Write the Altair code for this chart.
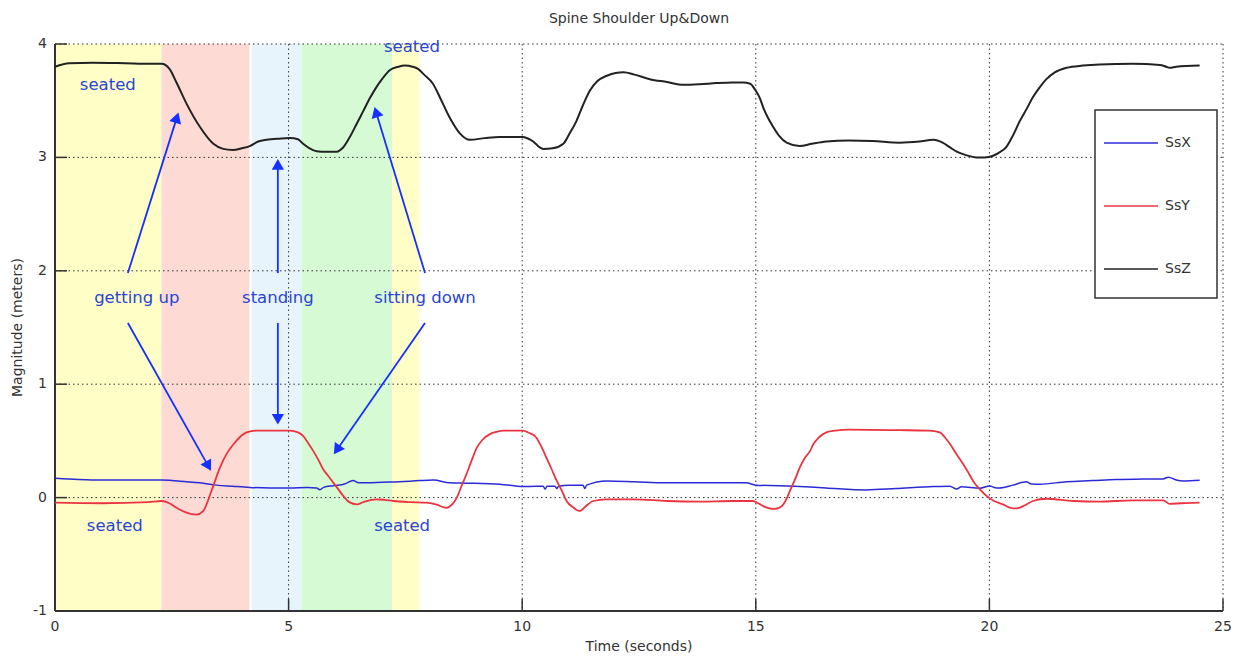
import math
import altair as alt
import pandas as pd

TITLE = "Spine Shoulder Up&Down"
X_TITLE = "Time (seconds)"
Y_TITLE = "Magnitude (meters)"
SERIES = ["SsX", "SsY", "SsZ"]
SERIES_COLORS = ["#2b2bd6", "#ea3440", "#222222"]
SERIES_WIDTHS = [1.5, 1.8, 2.0]

SSX = [(0, 0.17), (0.5, 0.16), (1.0, 0.155), (1.6, 0.155), (2.28, 0.155), (2.82, 0.14), (3.1, 0.13),
       (3.46, 0.11), (3.8, 0.10), (4.17, 0.09), (4.6, 0.085), (5.03, 0.085), (5.4, 0.09), (5.6, 0.085),
       (5.67, 0.07), (5.75, 0.09), (5.96, 0.105), (6.2, 0.12), (6.38, 0.15), (6.5, 0.13), (6.67, 0.13),
       (7.0, 0.135), (7.38, 0.14), (7.8, 0.15), (8.1, 0.155), (8.45, 0.13), (8.81, 0.127), (9.52, 0.118),
       (10.02, 0.097), (10.3, 0.1), (10.45, 0.1), (10.49, 0.075), (10.53, 0.1), (10.7, 0.1), (10.74, 0.08),
       (10.78, 0.1), (11.0, 0.11), (11.3, 0.11), (11.34, 0.08), (11.38, 0.11), (11.81, 0.147), (12.4, 0.14),
       (13.05, 0.13), (14.0, 0.13), (14.8, 0.13), (15.0, 0.11), (15.5, 0.105), (15.94, 0.097), (16.5, 0.085),
       (17.37, 0.068), (18.0, 0.08), (18.8, 0.097), (19.15, 0.1), (19.3, 0.075), (19.4, 0.095), (19.8, 0.083),
       (20.01, 0.103), (20.1, 0.09), (20.22, 0.085), (20.5, 0.11), (20.79, 0.14), (20.9, 0.12), (21.08, 0.118),
       (21.65, 0.14), (22.2, 0.15), (22.72, 0.16), (23.3, 0.163), (23.72, 0.165), (23.83, 0.18), (24.0, 0.155),
       (24.15, 0.147), (24.5, 0.153)]

SSY = [(0, -0.045), (1.0, -0.05), (2.0, -0.04), (2.28, -0.03), (2.45, -0.05), (2.6, -0.09), (2.8, -0.13),
       (3.03, -0.15), (3.17, -0.12), (3.35, 0.06), (3.53, 0.265), (3.68, 0.39), (3.82, 0.47), (3.95, 0.53),
       (4.1, 0.575), (4.3, 0.59), (4.53, 0.59), (5.03, 0.59), (5.2, 0.575), (5.31, 0.545), (5.42, 0.48),
       (5.53, 0.41), (5.64, 0.33), (5.74, 0.25), (5.85, 0.19), (5.96, 0.13), (6.07, 0.07), (6.17, 0.015),
       (6.3, -0.04), (6.46, -0.06), (6.6, -0.04), (6.88, -0.015), (7.05, -0.02), (7.24, -0.03), (7.6, -0.04),
       (7.95, -0.045), (8.15, -0.06), (8.38, -0.09), (8.5, -0.06), (8.6, 0.0), (8.7, 0.1), (8.81, 0.21),
       (8.92, 0.33), (9.03, 0.44), (9.15, 0.51), (9.31, 0.56), (9.45, 0.58), (9.6, 0.59), (10.02, 0.59),
       (10.15, 0.57), (10.3, 0.53), (10.42, 0.44), (10.52, 0.35), (10.63, 0.25), (10.74, 0.147), (10.85, 0.06),
       (10.95, -0.03), (11.1, -0.09), (11.23, -0.12), (11.35, -0.08), (11.52, -0.03), (11.8, -0.015),
       (12.38, -0.015), (13.1, -0.03), (13.8, -0.035), (14.5, -0.03), (14.94, -0.03), (15.05, -0.05),
       (15.16, -0.075), (15.37, -0.10), (15.5, -0.09), (15.59, -0.06), (15.66, -0.01), (15.73, 0.06),
       (15.84, 0.16), (15.94, 0.265), (16.05, 0.35), (16.16, 0.41), (16.23, 0.47), (16.35, 0.53),
       (16.51, 0.575), (16.7, 0.59), (17.0, 0.60), (18.08, 0.595), (18.7, 0.59), (18.94, 0.575), (19.05, 0.53),
       (19.16, 0.47), (19.3, 0.38), (19.44, 0.295), (19.55, 0.22), (19.65, 0.147), (19.8, 0.07), (19.94, 0.015),
       (20.1, -0.03), (20.29, -0.06), (20.45, -0.09), (20.58, -0.095), (20.75, -0.07), (20.93, -0.03),
       (21.22, -0.01), (21.8, -0.03), (22.36, -0.035), (23.07, -0.025), (23.72, -0.025), (23.86, -0.055),
       (24.1, -0.05), (24.5, -0.045)]

SSZ = [(0, 3.80), (0.3, 3.83), (0.8, 3.835), (1.5, 3.83), (2.0, 3.825), (2.28, 3.825), (2.45, 3.78),
       (2.6, 3.66), (2.82, 3.47), (3.1, 3.27), (3.39, 3.12), (3.6, 3.075), (3.8, 3.065), (4.0, 3.08),
       (4.17, 3.10), (4.35, 3.14), (4.53, 3.155), (4.8, 3.165), (5.03, 3.17), (5.2, 3.16), (5.31, 3.12),
       (5.45, 3.08), (5.6, 3.055), (5.8, 3.05), (6.03, 3.05), (6.15, 3.08), (6.31, 3.18), (6.45, 3.29),
       (6.6, 3.41), (6.75, 3.53), (6.88, 3.62), (7.0, 3.69), (7.17, 3.77), (7.35, 3.80), (7.49, 3.81),
       (7.65, 3.80), (7.77, 3.78), (7.9, 3.73), (8.09, 3.65), (8.25, 3.52), (8.45, 3.35), (8.67, 3.21),
       (8.88, 3.155), (9.2, 3.17), (9.52, 3.18), (9.8, 3.18), (10.02, 3.18), (10.2, 3.15), (10.45, 3.075),
       (10.65, 3.08), (10.88, 3.12), (11.0, 3.20), (11.16, 3.32), (11.3, 3.46), (11.45, 3.59), (11.6, 3.67),
       (11.81, 3.72), (12.0, 3.745), (12.17, 3.75), (12.4, 3.73), (12.73, 3.69), (13.1, 3.665), (13.45, 3.64),
       (13.8, 3.645), (14.16, 3.655), (14.5, 3.66), (14.73, 3.66), (14.88, 3.65), (14.98, 3.60), (15.08, 3.53),
       (15.16, 3.44), (15.26, 3.35), (15.37, 3.27), (15.5, 3.19), (15.66, 3.13), (15.94, 3.10), (16.2, 3.12),
       (16.51, 3.14), (17.0, 3.15), (17.5, 3.145), (18.08, 3.13), (18.5, 3.14), (18.8, 3.155), (19.0, 3.13),
       (19.15, 3.09), (19.3, 3.05), (19.5, 3.02), (19.72, 3.0), (19.9, 3.0), (20.08, 3.015), (20.2, 3.04),
       (20.36, 3.09), (20.5, 3.19), (20.65, 3.32), (20.8, 3.43), (20.93, 3.53), (21.08, 3.62), (21.22, 3.69),
       (21.4, 3.75), (21.65, 3.79), (22.0, 3.81), (22.36, 3.82), (23.07, 3.825), (23.65, 3.815), (23.78, 3.80),
       (23.86, 3.79), (24.0, 3.80), (24.5, 3.81)]

BAND_START = [0.0, 2.28, 4.21, 5.28, 7.22]
BAND_END = [2.28, 4.16, 5.28, 7.22, 7.80]
BAND_COLOR = ["#fefec6", "#fddad4", "#e8f4fc", "#d6fad4", "#fefec6"]

LABEL_TEXT = ["seated", "seated", "seated", "seated", "getting up", "standing", "sitting down"]
LABEL_T = [1.13, 7.64, 1.28, 7.43, 1.75, 4.77, 7.92]
LABEL_V = [3.64, 3.97, -0.25, -0.25, 1.76, 1.76, 1.76]

ARROW_T1 = [1.56, 1.56, 4.77, 4.77, 7.92, 7.92]
ARROW_V1 = [1.98, 1.54, 1.98, 1.54, 1.98, 1.54]
ARROW_T2 = [2.63, 3.32, 4.77, 4.77, 6.85, 5.99]
ARROW_V2 = [3.38, 0.25, 2.97, 0.66, 3.43, 0.395]

X_VALUES = [0, 5, 10, 15, 20, 25]
Y_VALUES = [-1, 0, 1, 2, 3, 4]

W, H = 1168, 567
XDOM, YDOM = [0, 25], [-1, 4]
FONT = "DejaVu Sans"
ANN_COLOR = "#2a45d6"
ARROW_COLOR = "#1530ff"
AXIS_COLOR = "#333333"
HEAD_SIZE = 150

PXS = W / (XDOM[1] - XDOM[0])
PYU = H / (YDOM[1] - YDOM[0])

x_scale = alt.Scale(domain=XDOM, nice=False, zero=False)
y_scale = alt.Scale(domain=YDOM, nice=False, zero=False)


def X(field):
    return alt.X(field, scale=x_scale, axis=None)


def Y(field):
    return alt.Y(field, scale=y_scale, axis=None)


bands = pd.DataFrame({"s": BAND_START, "e": BAND_END, "c": BAND_COLOR,
                      "lo": [YDOM[0]] * len(BAND_START), "hi": [YDOM[1]] * len(BAND_START)})
rows = []
for name, pts, wdt in zip(SERIES, [SSX, SSY, SSZ], SERIES_WIDTHS):
    for t, v in pts:
        rows.append({"series": name, "t": t, "v": v, "w": wdt})
lines_df = pd.DataFrame(rows)
labels_df = pd.DataFrame({"text": LABEL_TEXT, "t": LABEL_T, "v": LABEL_V})
xv_df = pd.DataFrame({"t": X_VALUES, "label": [str(v) for v in X_VALUES]})
yv_df = pd.DataFrame({"v": Y_VALUES, "label": [str(v) for v in Y_VALUES]})

head_h = 0.866 * math.sqrt(HEAD_SIZE) / 2
arr_rows = []
for t1, v1, t2, v2 in zip(ARROW_T1, ARROW_V1, ARROW_T2, ARROW_V2):
    dx = (t2 - t1) * PXS
    dy = -(v2 - v1) * PYU
    L = math.hypot(dx, dy)
    ux, uy = dx / L, dy / L
    ct = t2 - ux * head_h / PXS
    cv = v2 + uy * head_h / PYU
    ang = math.degrees(math.atan2(ux, -uy)) % 360
    arr_rows.append({"t1": t1, "v1": v1, "tc": ct, "vc": cv, "angle": ang})
arrows_df = pd.DataFrame(arr_rows)

band_layer = alt.Chart(bands).mark_rect().encode(
    x=X("s:Q"), x2="e:Q", y=Y("lo:Q"), y2="hi:Q",
    fill=alt.Fill("c:N", scale=None, legend=None),
)

# grid (dotted)
grid_x = alt.Chart(xv_df[xv_df.t > XDOM[0]]).mark_rule(
    color=AXIS_COLOR, strokeDash=[1.5, 3], strokeWidth=1).encode(
    x=X("t:Q"), y=alt.value(0), y2=alt.value(H))
grid_y = alt.Chart(yv_df[yv_df.v > YDOM[0]]).mark_rule(
    color=AXIS_COLOR, strokeDash=[1.5, 3], strokeWidth=1).encode(
    y=Y("v:Q"), x=alt.value(0), x2=alt.value(W))

# domain lines
dom_x = alt.Chart(pd.DataFrame({"v": [YDOM[0]]})).mark_rule(color=AXIS_COLOR, strokeWidth=2).encode(
    y=Y("v:Q"), x=alt.value(0), x2=alt.value(W))
dom_y = alt.Chart(pd.DataFrame({"t": [XDOM[0]]})).mark_rule(color=AXIS_COLOR, strokeWidth=2).encode(
    x=X("t:Q"), y=alt.value(0), y2=alt.value(H))

# inward ticks
xt_layer = alt.Chart(xv_df[xv_df.t > XDOM[0]]).mark_rule(color=AXIS_COLOR, strokeWidth=1.5).encode(
    x=X("t:Q"), y=alt.value(H), y2=alt.value(H - 12))
yt_layer = alt.Chart(yv_df[yv_df.v > YDOM[0]]).mark_rule(color=AXIS_COLOR, strokeWidth=1.5).encode(
    y=Y("v:Q"), x=alt.value(0), x2=alt.value(12))

# tick labels and axis titles
xlab = alt.Chart(xv_df).mark_text(font=FONT, fontSize=14, color=AXIS_COLOR, align="center",
                                  baseline="middle").encode(
    x=X("t:Q"), y=alt.value(H + 16), text="label:N")
ylab = alt.Chart(yv_df).mark_text(font=FONT, fontSize=14, color=AXIS_COLOR, align="right",
                                  baseline="middle").encode(
    y=Y("v:Q"), x=alt.value(-8), text="label:N")
xtitle = alt.Chart(pd.DataFrame({"text": [X_TITLE]})).mark_text(
    font=FONT, fontSize=14, color=AXIS_COLOR, align="center", baseline="middle").encode(
    x=alt.value(W / 2), y=alt.value(H + 36), text="text:N")
ytitle = alt.Chart(pd.DataFrame({"text": [Y_TITLE]})).mark_text(
    font=FONT, fontSize=14, color=AXIS_COLOR, align="center", baseline="middle", angle=270).encode(
    x=alt.value(-37), y=alt.value(H / 2), text="text:N")

legend_box = alt.Chart(pd.DataFrame({"k": [0]})).mark_rect(
    fill="white", stroke=AXIS_COLOR, strokeWidth=1.5).encode(
    x=alt.value(1040), x2=alt.value(1162), y=alt.value(66), y2=alt.value(254))

line_layer = alt.Chart(lines_df).mark_line(interpolate="monotone").encode(
    x=X("t:Q"),
    y=Y("v:Q"),
    strokeWidth=alt.StrokeWidth("w:Q", scale=None, legend=None),
    color=alt.Color("series:N", scale=alt.Scale(domain=SERIES, range=SERIES_COLORS),
                    legend=alt.Legend(title=None, orient="none", legendX=1048, legendY=71,
                                      symbolType="stroke", symbolSize=2916, symbolStrokeWidth=1.5,
                                      labelFontSize=14, labelColor=AXIS_COLOR, labelFont=FONT,
                                      labelOffset=6, rowPadding=28, padding=0)),
)

arrow_rules = alt.Chart(arrows_df).mark_rule(color=ARROW_COLOR, strokeWidth=1.8).encode(
    x=X("t1:Q"), y=Y("v1:Q"), x2="tc:Q", y2="vc:Q")
arrow_heads = alt.Chart(arrows_df).mark_point(shape="triangle", filled=True, opacity=1,
                                               color=ARROW_COLOR, size=HEAD_SIZE).encode(
    x=X("tc:Q"), y=Y("vc:Q"), angle=alt.Angle("angle:Q", scale=None))

text_layer = alt.Chart(labels_df).mark_text(fontSize=16.5, font=FONT, color=ANN_COLOR,
                                             align="center", baseline="middle").encode(
    x=X("t:Q"), y=Y("v:Q"), text="text:N")

chart = alt.layer(band_layer, grid_x, grid_y, dom_x, dom_y, xt_layer, yt_layer, xlab, ylab,
                  xtitle, ytitle, legend_box, line_layer, arrow_rules, arrow_heads,
                  text_layer).properties(
    width=W, height=H,
    title=alt.TitleParams(TITLE, fontSize=14, fontWeight="normal", color=AXIS_COLOR, font=FONT,
                          offset=11, anchor="middle", frame="group"),
    autosize=alt.AutoSizeParams(type="none"),
    padding={"left": 47, "top": 36, "right": 11, "bottom": 46},
).configure_view(stroke=None)

chart.save("out.html", embed_options={"renderer": "svg", "actions": False})
